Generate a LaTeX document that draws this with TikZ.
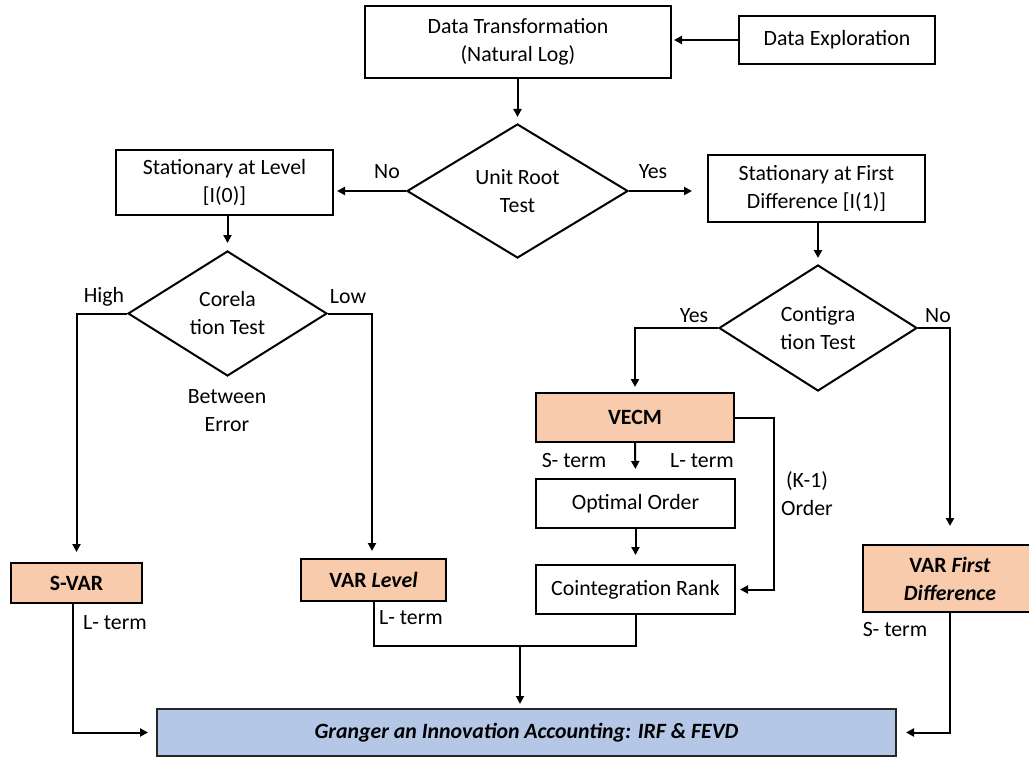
\documentclass[tikz,border=0pt]{standalone}
\usepackage{fontspec}
\setmainfont{Carlito}
\usetikzlibrary{shapes.geometric,arrows.meta}
\definecolor{peach}{HTML}{F8CBAD}
\definecolor{lblue}{HTML}{B4C7E7}
\begin{document}
\begin{tikzpicture}[x=1pt,y=-1pt,
  every node/.style={font=\fontsize{21.8}{28}\selectfont, align=center, inner sep=0pt},
  box/.style={draw=black, line width=2pt, rectangle},
  colbox/.style={box, fill=peach, font=\fontsize{21.8}{28}\selectfont\bfseries},
  dia/.style={draw=black, line width=2pt, diamond, shape aspect=1.6},
  lbl/.style={},
  conn/.style={line width=2pt},
  arr/.style={conn, -{Triangle[length=8pt,width=8pt]}}]
\useasboundingbox (0,0) rectangle (1029,757);
\fill[white] (0,0) rectangle (1029,757);
% nodes
\node[box, minimum width=306pt, minimum height=72pt] (DT) at (518,42) {Data Transformation\\(Natural Log)};
\node[box, minimum width=196pt, minimum height=48pt] (DE) at (837,40) {Data Exploration};
\node[box, minimum width=217pt, minimum height=65pt] (SL) at (224.5,182.5) {Stationary at Level\\{}[I(0)]};
\node[box, minimum width=217pt, minimum height=67pt] (SF) at (816.5,188.5) {Stationary at First\\Difference [I(1)]};
\node[dia, minimum width=221pt, minimum height=134pt] (UR) at (517.5,191) {Unit Root\\Test};
\node[dia, minimum width=199pt, minimum height=125pt] (CO) at (227.5,313.5) {Corela\\tion Test};
\node[dia, minimum width=198pt, minimum height=126pt] (CT) at (818,328) {Contigra\\tion Test};
\node[colbox, minimum width=131pt, minimum height=40pt] (SV) at (76.5,583) {S-VAR};
\node[colbox, minimum width=145pt, minimum height=42pt] (VL) at (373.5,580) {VAR \textit{Level}};
\node[colbox, minimum width=198pt, minimum height=49pt] (VE) at (635,417.5) {VECM};
\node[box, minimum width=199pt, minimum height=49pt] (OO) at (635.5,503.5) {Optimal Order};
\node[box, minimum width=199pt, minimum height=49pt] (CR) at (635.5,589.5) {Cointegration Rank};
\node[colbox, minimum width=174pt, minimum height=67pt] (VF) at (950,578.5) {VAR \textit{First}\\\textit{Difference}};
\node[box, draw=black!85, fill=lblue, minimum width=739pt, minimum height=47pt, font=\fontsize{21.8}{28}\selectfont\bfseries\itshape] (GR) at (526.5,732.5) {Granger an Innovation Accounting: IRF \& FEVD};
% labels
\node[lbl] (l1) at (387,172) {No};
\node[lbl] (l2) at (653,172) {Yes};
\node[lbl] (l3) at (104,297) {High};
\node[lbl] (l4) at (348,297) {Low};
\node[lbl] (l5) at (694,316) {Yes};
\node[lbl] (l6) at (938,316) {No};
\node[lbl] (l7) at (227,411) {Between\\Error};
\node[lbl] (l8) at (574,461) {S- term};
\node[lbl] (l9) at (702,461) {L- term};
\node[lbl] (l10) at (807,494) {(K-1)\\Order};
\node[lbl] (l11) at (115,623) {L- term};
\node[lbl] (l12) at (411,618) {L- term};
\node[lbl] (l13) at (895,630) {S- term};
\coordinate (m) at (520,646);
% connectors
\draw[arr, shorten >=2pt] (DE.west) -- (DT.east |- DE.west);
\draw[arr, shorten >=6pt] (DT.south -| UR.north) -- (UR.north);
\draw[arr, shorten >=3pt] (UR.west) -- (SL.east |- UR.west);
\draw[arr, shorten >=15pt] (UR.east) -- (SF.west |- UR.east);
\draw[arr, shorten >=7pt] (SL.south -| CO.north) -- (CO.north);
\draw[arr, shorten >=6pt] (SF.south -| CT.north) -- (CT.north);
\draw[arr, shorten >=10pt] (CO.west) -| (SV.north);
\draw[arr, shorten >=7pt] (CO.east) -| ([xshift=-1.5pt]VL.north);
\draw[arr, shorten >=5pt] (CT.west) -| (VE.north);
\draw[arr, shorten >=18pt] (CT.east) -| (VF.north);
\draw[arr, shorten >=9pt] (VE.south) -- (OO.north);
\draw[arr, shorten >=9pt] (OO.south) -- (CR.north);
\draw[arr, shorten >=4pt] (VE.east) -- ++(39,0) |- (CR.east);
\draw[arr, shorten >=8pt] ([xshift=-4pt]SV.south) |- (GR.west);
\draw[conn] (VL.south) -- (VL.south |- m) -- (CR.south |- m) -- (CR.south);
\draw[arr, shorten >=4pt] (m) -- (GR.north -| m);
\draw[arr, shorten >=9pt] (VF.south) |- (GR.east);
\end{tikzpicture}
\end{document}
